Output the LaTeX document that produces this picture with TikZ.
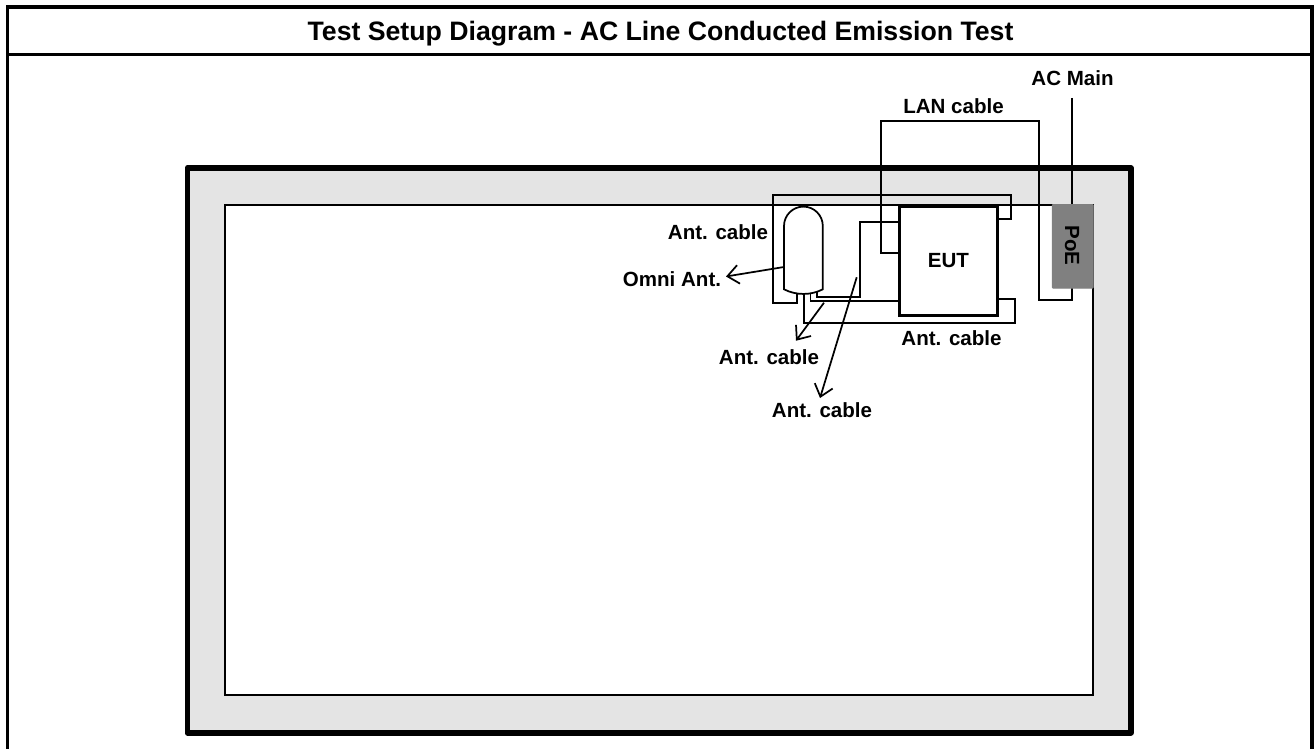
\documentclass[tikz,border=0pt]{standalone}
\usepackage{fontspec}
\setmainfont{Liberation Sans}
\usetikzlibrary{arrows.meta}
\definecolor{tablegrey}{HTML}{E4E4E4}
\definecolor{poegrey}{HTML}{808080}
\tikzset{
  px/.style={x=0.75pt,y=-0.75pt},
  lbl/.style={font=\fontsize{15.4}{18}\selectfont\bfseries,inner sep=0pt,text=black},
  wire/.style={draw=black,line width=1.3pt,line join=miter},
  pointer/.style={draw=black,line width=1.3pt,-{Straight Barb[length=8.5pt,width=14pt,line width=1.3pt]}},
}
\begin{document}
\begin{tikzpicture}[px]
\useasboundingbox (0,0) rectangle (1314,749);
\fill[white] (0,0) rectangle (1314,749);
% sheet frame
\draw[line width=2.6pt] (7.3,749) -- (7.3,7) -- (1312,7) -- (1312,749);
\draw[line width=1.9pt] (7.3,54.7) -- (1312,54.7);
\node[font=\fontsize{20}{23}\selectfont\bfseries,inner sep=0pt] (title) at (660.5,33.5) {Test Setup Diagram - AC Line Conducted Emission Test};
% table
\draw[line width=4.2pt,fill=tablegrey,line join=round] (187.3,168) rectangle (1130.8,732.8);
\draw[line width=1.3pt,fill=white] (225.3,205.3) rectangle (1093,695);
% wires
\coordinate (lanA) at (881,121);
\coordinate (lanB) at (1039,121);
\coordinate (acTop) at (1072,98);
\draw[wire] (899,252.7) -- (881,252.7) -- (lanA) -- (lanB) -- (1039,300.3) -- (1072,300.3) -- (1072,288);
\draw[wire] (acTop) -- (1072,205);
\draw[wire] (797,292) -- (797,302.7) -- (773,302.7) -- (773,195) -- (1010.7,195) -- (1010.7,219) -- (998,219);
\draw[wire] (899,221.7) -- (860,221.7) -- (860,296.7) -- (817.3,296.7) -- (817.3,290);
\draw[wire] (810.5,292) -- (810.5,300.7) -- (899,300.7);
\draw[wire] (804,292) -- (804,323) -- (1015,323) -- (1015,299.3) -- (998,299.3);
% EUT
\node[draw=black,line width=2.4pt,fill=white,minimum width=73.9pt,minimum height=82.3pt,inner sep=0pt] (eut) at (948.5,261) {};
\node[lbl] at (948.5,261) {EUT};
% PoE
\node[fill=poegrey,draw=poegrey,line width=.5pt,rounded corners=.6pt,minimum width=30.9pt,minimum height=62.8pt,inner sep=0pt] (poe) at (1072.7,246.3) {};
\node[lbl,rotate=-90] at (1072,245.5) {PoE};
% antenna
\draw[line width=1.3pt,fill=white] (784,289.3) -- (784,226) arc[start angle=180,end angle=360,radius=19.4] -- (822.8,289.3) .. controls (811,295.5) and (796,295.5) .. cycle;
\coordinate (ant) at (784,267);
\coordinate (omniTip) at (726,276.5);
\coordinate (cabA) at (824,302.7);
\coordinate (cabATip) at (796,340.7);
\coordinate (cabB) at (856.7,277.3);
\coordinate (cabBTip) at (820,398);
% pointers
\draw[pointer] (ant) -- (omniTip);
\draw[pointer] (cabA) -- (cabATip);
\draw[pointer] (cabB) -- (cabBTip);
% labels
\node[lbl] at (718,232) {Ant. cable};
\node[lbl] at (672,279) {Omni Ant.};
\node[lbl] at (769,357) {Ant. cable};
\node[lbl] at (822,410) {Ant. cable};
\node[lbl] at (951.5,338) {Ant. cable};
\node[lbl] at (953.5,106) {LAN cable};
\node[lbl] at (1072.5,78) {AC Main};
\end{tikzpicture}
\end{document}
